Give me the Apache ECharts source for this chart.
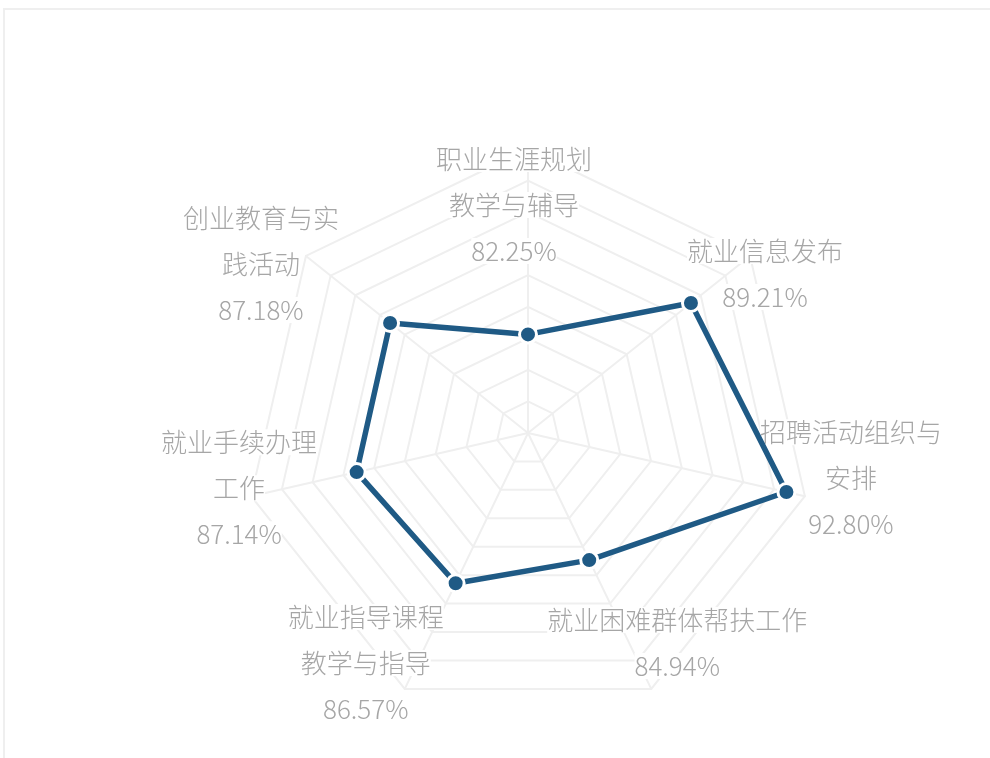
<!DOCTYPE html>
<html>
<head>
<meta charset="utf-8">
<script src="https://cdn.jsdelivr.net/npm/echarts@6/dist/echarts.min.js"></script>
<style>
  html, body { margin: 0; padding: 0; background: #ffffff; overflow: hidden; }
  #frame { position: absolute; left: 3px; top: 8px; width: 1100px; height: 900px;
           border: 2px solid #efefef; box-sizing: border-box; }
  #chart { position: absolute; left: 0; top: 0; width: 990px; height: 758px; }
</style>
</head>
<body>
<div id="frame"></div>
<div id="chart"></div>
<script>
// Service items, listed clockwise starting from the top axis
const categories = [
  '职业生涯规划\n教学与辅导',
  '就业信息发布',
  '招聘活动组织与\n安排',
  '就业困难群体帮扶工作',
  '就业指导课程\n教学与指导',
  '就业手续办理\n工作',
  '创业教育与实\n践活动'
];
// Satisfaction rate (%) for each item
const rates = [82.25, 89.21, 92.80, 84.94, 86.57, 87.14, 87.18];
// Radial scale
const scaleMin = 76;
const scaleMax = 94;
const scaleStep = 2;

// Layout
const CX = 528, CY = 433, R = 284;
const LINE_H = 46;
const labelShift = [[-14, 56], [15, 18], [46, -18], [26, -46], [-39, -26], [-12, -8], [-45, 8]];

const n = categories.length;
// ECharts lays indicators out counter-clockwise; reorder so the items run clockwise
const order = [0].concat(categories.map((_, i) => i).slice(1).reverse());

const chart = echarts.init(document.getElementById('chart'), null, { renderer: 'canvas' });

// Labels: name lines plus the value, centred near each axis end
const graphics = [];
categories.forEach((name, k) => {
  const a = Math.PI / 2 - k * 2 * Math.PI / n;
  const vx = CX + R * Math.cos(a);
  const vy = CY - R * Math.sin(a);
  const lines = name.split('\n').concat([rates[k].toFixed(2) + '%']);
  const lx = vx + labelShift[k][0];
  const ly = vy + labelShift[k][1];
  lines.forEach((t, i) => {
    graphics.push({
      type: 'text',
      x: lx,
      y: ly + (i - (lines.length - 1) / 2) * LINE_H,
      z: 5,
      style: {
        text: t,
        fill: '#a6a6a6',
        fontSize: 26,
        fontWeight: 300,
        fontFamily: '"Noto Sans CJK SC", "Noto Sans", sans-serif',
        align: 'center',
        verticalAlign: 'middle',
        backgroundColor: '#ffffff'
      }
    });
  });
});

chart.setOption({
  animation: false,
  radar: {
    center: [CX, CY],
    radius: R,
    startAngle: 90,
    splitNumber: (scaleMax - scaleMin) / scaleStep,
    shape: 'polygon',
    indicator: order.map(i => ({ name: categories[i], min: scaleMin, max: scaleMax })),
    axisName: { show: false },
    axisLine: { lineStyle: { color: '#efefef', width: 2 } },
    splitLine: { lineStyle: { color: '#efefef', width: 2 } },
    splitArea: { show: false }
  },
  graphic: graphics,
  series: [{
    type: 'radar',
    z: 10,
    symbol: 'circle',
    symbolSize: 17,
    lineStyle: { color: '#1f5a85', width: 5.5 },
    itemStyle: { color: '#1f5a85', borderColor: '#ffffff', borderWidth: 3 },
    data: [{ value: order.map(i => rates[i]), name: '满意度' }]
  }]
});
</script>
</body>
</html>
